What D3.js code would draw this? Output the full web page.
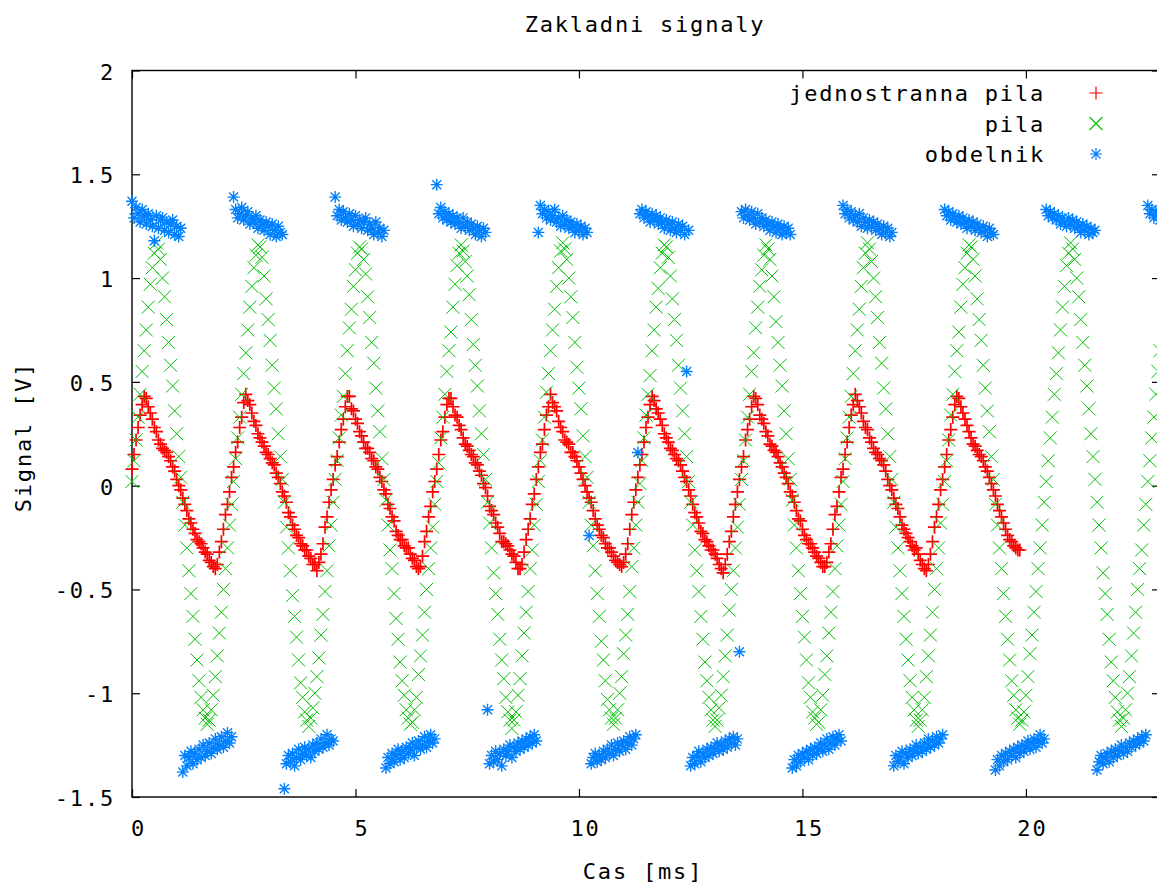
<!DOCTYPE html>
<html>
<head>
<meta charset="utf-8">
<script src="https://cdn.jsdelivr.net/npm/d3@7"></script>
<style>
  html, body { margin: 0; padding: 0; background: #fff; }
  svg { display: block; }
  text { font-family: "DejaVu Sans Mono", monospace; font-size: 22px; fill: #000; letter-spacing: 1.8px; }
</style>
</head>
<body>
<svg id="chart" width="1157" height="885"></svg>
<script>
// samples are 1/22 ms apart (22 kHz), first sample at t = 0
const sampleStep = 1 / 22;

const jednostrannaPila = [
  0.08,0.15,0.22,0.28,0.34,0.39,0.43,0.42,0.38,0.35,0.32,0.28,0.26,0.22,0.20,0.18,0.17,0.16,0.14,0.12,
  0.09,0.07,0.03,0.00,-0.02,-0.06,-0.09,-0.12,-0.16,-0.18,-0.21,-0.23,-0.26,-0.27,-0.28,-0.30,-0.32,-0.33,-0.36,-0.37,
  -0.39,-0.40,-0.38,-0.32,-0.27,-0.21,-0.14,-0.09,-0.03,0.04,
  0.09,0.16,0.21,0.28,0.33,0.40,0.44,0.41,0.39,0.35,0.31,0.29,0.25,0.23,0.21,0.19,0.16,0.15,0.13,0.11,
  0.10,0.06,0.04,0.01,-0.03,-0.05,-0.08,-0.13,-0.15,-0.19,-0.21,-0.24,-0.25,-0.28,-0.29,-0.31,-0.31,-0.34,-0.35,-0.38,
  -0.38,-0.41,-0.37,-0.33,-0.28,-0.20,-0.15,-0.08,-0.02,0.03,
  0.10,0.14,0.21,0.27,0.32,0.38,0.43,0.43,0.37,0.36,0.32,0.30,0.26,0.24,0.21,0.18,0.18,0.16,0.13,0.12,
  0.09,0.08,0.04,0.02,-0.02,-0.04,-0.09,-0.11,-0.15,-0.17,-0.22,-0.24,-0.26,-0.26,-0.29,-0.30,-0.30,-0.33,-0.35,-0.36,
  -0.39,-0.40,-0.39,-0.34,-0.27,-0.22,-0.15,-0.10,-0.03,0.02,
  0.08,0.15,0.22,0.26,0.33,0.39,0.42,0.42,0.38,0.34,0.33,0.29,0.27,0.23,0.20,0.19,0.17,0.15,0.14,0.11,
  0.10,0.07,0.05,0.01,-0.01,-0.05,-0.10,-0.12,-0.14,-0.18,-0.20,-0.23,-0.27,-0.27,-0.28,-0.29,-0.31,-0.33,-0.34,-0.37,
  -0.40,-0.40,-0.38,-0.32,-0.26,-0.21,-0.16,-0.09,-0.04,0.03,
  0.09,0.16,0.20,0.27,0.34,0.38,0.44,0.40,0.38,0.36,0.31,0.28,0.26,0.22,0.21,0.20,0.16,0.16,0.14,0.12,
  0.09,0.06,0.03,0.00,-0.03,-0.06,-0.08,-0.12,-0.16,-0.19,-0.21,-0.24,-0.25,-0.28,-0.30,-0.30,-0.32,-0.34,-0.36,-0.37,
  -0.38,-0.39,-0.37,-0.33,-0.28,-0.21,-0.14,-0.08,-0.02,0.04,
  0.10,0.15,0.21,0.28,0.33,0.39,0.43,0.41,0.37,0.35,0.32,0.29,0.25,0.23,0.21,0.18,0.17,0.15,0.13,0.12,
  0.10,0.07,0.04,0.02,-0.02,-0.05,-0.09,-0.13,-0.15,-0.18,-0.22,-0.23,-0.26,-0.27,-0.29,-0.31,-0.31,-0.33,-0.35,-0.38,
  -0.40,-0.42,-0.38,-0.33,-0.27,-0.22,-0.15,-0.09,-0.03,0.03,
  0.09,0.14,0.22,0.27,0.32,0.38,0.43,0.42,0.39,0.34,0.32,0.30,0.26,0.24,0.20,0.19,0.17,0.16,0.14,0.11,
  0.09,0.06,0.04,0.01,-0.03,-0.05,-0.08,-0.12,-0.16,-0.17,-0.21,-0.24,-0.26,-0.28,-0.28,-0.30,-0.32,-0.34,-0.35,-0.37,
  -0.39,-0.39,-0.37,-0.32,-0.28,-0.21,-0.14,-0.10,-0.03,0.04,
  0.08,0.15,0.21,0.28,0.34,0.39,0.44,0.41,0.38,0.35,0.31,0.28,0.27,0.23,0.21,0.18,0.16,0.15,0.13,0.12,
  0.10,0.07,0.03,0.00,-0.02,-0.06,-0.09,-0.11,-0.15,-0.19,-0.21,-0.23,-0.25,-0.27,-0.29,-0.31,-0.30,-0.33,-0.36,-0.38,
  -0.40,-0.41,-0.38,-0.33,-0.27,-0.20,-0.15,-0.09,-0.02,0.03,
  0.09,0.15,0.22,0.27,0.33,0.39,0.43,0.42,0.38,0.35,0.32,0.29,0.26,0.23,0.20,0.19,0.17,0.15,0.14,0.12,
  0.09,0.07,0.04,0.01,-0.02,-0.05,-0.09,-0.12,-0.15,-0.18,-0.21,-0.24,-0.26,-0.27,-0.29,-0.30,-0.31,-0.31
];

const pila = [
  0.02,0.12,0.22,0.33,0.44,0.55,0.65,0.75,0.86,0.97,1.05,1.12,1.17,1.14,1.09,1.00,0.91,0.80,0.69,0.58,
  0.48,0.36,0.25,0.14,0.04,-0.08,-0.19,-0.30,-0.41,-0.52,-0.63,-0.74,-0.84,-0.94,-1.02,-1.08,-1.12,-1.15,-1.13,-1.08,
  -1.01,-0.92,-0.82,-0.71,-0.61,-0.50,-0.40,-0.30,-0.19,-0.09,
  0.02,0.13,0.23,0.33,0.44,0.54,0.64,0.75,0.86,0.96,1.05,1.11,1.16,1.15,1.10,1.01,0.90,0.80,0.70,0.58,
  0.47,0.37,0.25,0.14,0.03,-0.08,-0.20,-0.30,-0.41,-0.53,-0.63,-0.73,-0.84,-0.95,-1.02,-1.09,-1.13,-1.16,-1.12,-1.07,
  -1.00,-0.92,-0.83,-0.72,-0.62,-0.51,-0.41,-0.29,-0.19,-0.08,
  0.03,0.12,0.23,0.34,0.43,0.54,0.65,0.76,0.85,0.96,1.04,1.12,1.15,1.14,1.09,1.02,0.91,0.81,0.69,0.59,
  0.47,0.36,0.26,0.13,0.03,-0.07,-0.19,-0.31,-0.40,-0.52,-0.64,-0.74,-0.85,-0.94,-1.01,-1.08,-1.12,-1.15,-1.14,-1.08,
  -1.02,-0.91,-0.82,-0.72,-0.61,-0.50,-0.40,-0.30,-0.20,-0.09,
  0.02,0.11,0.23,0.33,0.44,0.55,0.65,0.74,0.86,0.97,1.06,1.12,1.16,1.13,1.08,1.01,0.92,0.80,0.68,0.58,
  0.48,0.36,0.25,0.15,0.03,-0.08,-0.18,-0.30,-0.42,-0.52,-0.62,-0.74,-0.84,-0.93,-1.02,-1.09,-1.13,-1.17,-1.13,-1.09,
  -1.01,-0.93,-0.82,-0.71,-0.61,-0.51,-0.40,-0.31,-0.19,-0.09,
  0.02,0.12,0.22,0.33,0.45,0.54,0.65,0.75,0.85,0.96,1.05,1.13,1.17,1.14,1.09,1.00,0.91,0.81,0.69,0.57,
  0.47,0.37,0.24,0.14,0.04,-0.08,-0.19,-0.29,-0.41,-0.52,-0.63,-0.75,-0.84,-0.94,-1.03,-1.08,-1.12,-1.15,-1.12,-1.08,
  -1.00,-0.92,-0.81,-0.72,-0.62,-0.51,-0.39,-0.30,-0.19,-0.08,
  0.01,0.12,0.23,0.34,0.44,0.53,0.65,0.75,0.86,0.95,1.05,1.12,1.16,1.15,1.10,1.01,0.90,0.80,0.70,0.58,
  0.47,0.36,0.25,0.14,0.02,-0.08,-0.19,-0.31,-0.41,-0.51,-0.63,-0.74,-0.85,-0.94,-1.02,-1.08,-1.13,-1.16,-1.13,-1.07,
  -1.01,-0.92,-0.82,-0.72,-0.60,-0.50,-0.41,-0.30,-0.20,-0.09,
  0.03,0.12,0.22,0.33,0.44,0.55,0.64,0.76,0.86,0.96,1.04,1.11,1.16,1.14,1.09,1.01,0.91,0.79,0.69,0.58,
  0.48,0.36,0.25,0.13,0.03,-0.07,-0.19,-0.30,-0.41,-0.52,-0.63,-0.73,-0.84,-0.95,-1.02,-1.09,-1.12,-1.15,-1.14,-1.08,
  -1.01,-0.91,-0.82,-0.71,-0.61,-0.51,-0.40,-0.29,-0.19,-0.09,
  0.02,0.13,0.23,0.33,0.43,0.54,0.65,0.75,0.85,0.96,1.05,1.12,1.17,1.14,1.08,1.00,0.91,0.81,0.69,0.59,
  0.47,0.37,0.25,0.14,0.03,-0.08,-0.20,-0.30,-0.41,-0.52,-0.63,-0.74,-0.84,-0.94,-1.02,-1.08,-1.13,-1.16,-1.13,-1.08,
  -1.02,-0.92,-0.82,-0.72,-0.61,-0.50,-0.40,-0.30,-0.18,-0.09,
  0.02,0.12,0.22,0.34,0.44,0.55,0.65,0.74,0.86,0.97,1.05,1.12,1.16,1.15,1.09,1.01,0.90,0.80,0.70,0.58,
  0.47,0.36,0.26,0.14,0.03,-0.09,-0.19,-0.30,-0.40,-0.52,-0.63,-0.74,-0.84,-0.94,-1.01,-1.08,-1.12,-1.15,-1.13,-1.09,
  -1.01,-0.92,-0.81,-0.72,-0.61,-0.51,-0.40,-0.30,-0.19,-0.08,
  0.02,0.12,0.23,0.33,0.44,0.54,0.64,0.75,0.86,0.96,1.06,1.12,1.17,1.14,1.09,1.00,0.91,0.80,0.69,0.58,
  0.48,0.37,0.25,0.14,0.03,-0.08,-0.19,-0.30,-0.42,-0.52,-0.62,-0.74,-0.85,-0.94,-1.02,-1.09,-1.13,-1.16,-1.12,-1.08,
  -1.00,-0.92,-0.82,-0.71,-0.61,-0.50,-0.40,-0.31,-0.19,-0.09,
  0.02,0.12,0.23,0.33,0.44,0.55,0.65
];

const obdelnik = [
  1.37,1.29,1.34,1.31,1.27,1.33,1.30,1.26,1.31,1.28,1.25,1.18,1.30,1.24,1.28,1.29,1.23,1.27,1.22,1.26,1.28,1.21,1.25,1.20,1.24,
  -1.38,-1.30,-1.35,-1.31,-1.28,-1.34,-1.29,-1.32,-1.27,-1.31,-1.25,-1.30,-1.28,-1.24,-1.29,-1.26,-1.22,-1.27,-1.25,-1.21,-1.26,-1.23,-1.19,-1.24,-1.21,
  1.39,1.33,1.29,1.31,1.34,1.28,1.30,1.32,1.26,1.29,1.27,1.30,1.24,1.28,1.26,1.23,1.27,1.25,1.21,1.26,1.23,1.20,1.25,1.22,1.21,
  -1.46,-1.34,-1.30,-1.33,-1.29,-1.35,-1.31,-1.27,-1.32,-1.29,-1.26,-1.30,-1.27,-1.31,-1.25,-1.28,-1.24,-1.27,-1.22,-1.26,-1.24,-1.20,-1.25,-1.22,-1.23,
  1.39,1.30,1.33,1.28,1.32,1.29,1.27,1.31,1.28,1.25,1.30,1.26,1.28,1.24,1.27,1.29,1.23,1.26,1.24,1.21,1.27,1.22,1.24,1.20,1.23,
  -1.36,-1.31,-1.34,-1.29,-1.33,-1.30,-1.27,-1.32,-1.28,-1.31,-1.26,-1.29,-1.27,-1.24,-1.30,-1.26,-1.23,-1.27,-1.25,-1.21,-1.26,-1.23,-1.20,-1.24,-1.22,
  1.45,1.31,1.34,1.29,1.32,1.28,1.31,1.27,1.30,1.26,1.29,1.27,1.24,1.29,1.25,1.27,1.23,1.26,1.24,1.21,1.25,1.23,1.20,1.24,1.22,
  -1.08,-1.34,-1.30,-1.33,-1.28,-1.32,-1.29,-1.35,-1.27,-1.30,-1.28,-1.25,-1.31,-1.26,-1.28,-1.24,-1.27,-1.23,-1.26,-1.22,-1.25,-1.21,-1.24,-1.20,-1.23,
  1.22,1.35,1.31,1.33,1.29,1.32,1.28,1.30,1.33,1.27,1.29,1.25,1.30,1.26,1.28,1.24,1.27,1.25,1.22,1.26,1.23,1.25,1.21,1.24,1.22,
  -0.24,-1.34,-1.31,-1.29,-1.33,-1.30,-1.32,-1.28,-1.31,-1.27,-1.29,-1.25,-1.30,-1.27,-1.24,-1.28,-1.25,-1.23,-1.27,-1.24,-1.21,-1.25,-1.22,-1.20,0.16,
  1.31,1.33,1.29,1.32,1.30,1.27,1.31,1.28,1.30,1.26,1.29,1.27,1.24,1.28,1.26,1.23,1.27,1.24,1.22,1.26,1.23,1.25,1.21,0.55,1.23,
  -1.35,-1.31,-1.34,-1.30,-1.28,-1.33,-1.29,-1.31,-1.27,-1.30,-1.26,-1.29,-1.27,-1.24,-1.28,-1.25,-1.27,-1.23,-1.26,-1.22,-1.24,-1.21,-1.25,-1.22,-0.80,
  1.32,1.29,1.33,1.30,1.28,1.32,1.29,1.26,1.31,1.27,1.29,1.25,1.28,1.26,1.23,1.27,1.25,1.22,1.26,1.24,1.21,1.25,1.22,1.24,1.21,
  -1.36,-1.32,-1.35,-1.30,-1.33,-1.29,-1.31,-1.28,-1.32,-1.27,-1.30,-1.26,-1.29,-1.27,-1.24,-1.28,-1.25,-1.22,-1.27,-1.24,-1.21,-1.25,-1.22,-1.20,-1.23,
  1.35,1.31,1.33,1.29,1.32,1.28,1.30,1.27,1.31,1.25,1.29,1.27,1.24,1.28,1.25,1.27,1.23,1.26,1.24,1.21,1.25,1.22,1.24,1.20,1.22,
  -1.35,-1.30,-1.33,-1.31,-1.28,-1.34,-1.29,-1.31,-1.27,-1.30,-1.28,-1.25,-1.29,-1.26,-1.28,-1.24,-1.27,-1.22,-1.26,-1.23,-1.25,-1.21,-1.24,-1.22,-1.20,
  1.33,1.30,1.32,1.28,1.31,1.29,1.27,1.30,1.26,1.29,1.27,1.24,1.28,1.25,1.27,1.23,1.26,1.24,1.22,1.25,1.23,1.20,1.24,1.22,1.21,
  -1.37,-1.32,-1.35,-1.30,-1.33,-1.29,-1.32,-1.28,-1.30,-1.27,-1.31,-1.26,-1.29,-1.25,-1.28,-1.26,-1.23,-1.27,-1.24,-1.22,-1.26,-1.23,-1.20,-1.24,-1.22,
  1.33,1.30,1.32,1.29,1.31,1.28,1.30,1.26,1.29,1.27,1.25,1.29,1.26,1.28,1.24,1.27,1.25,1.22,1.26,1.23,1.25,1.21,1.24,1.22,1.23,
  -1.37,-1.33,-1.30,-1.34,-1.31,-1.29,-1.33,-1.28,-1.31,-1.27,-1.30,-1.28,-1.25,-1.29,-1.26,-1.28,-1.24,-1.26,-1.23,-1.25,-1.22,-1.24,-1.21,-1.23,-1.20,
  1.35,1.31,1.33,1.29,1.32,1.30,1.28
];

const xTicks = [0, 5, 10, 15, 20];
const yTicks = [-1.5, -1, -0.5, 0, 0.5, 1, 1.5, 2];
const seriesNames = ["jednostranna pila", "pila", "obdelnik"];

const colors = ["#ff0000", "#00c000", "#0080ff"];
const strokeWidths = [1.7, 1, 1.4];
// gnuplot point types 1, 2, 3
const shapes = [
  "M-6.5,0H6.5M0,-6.5V6.5",
  "M-6.5,-6.5L6.5,6.5M-6.5,6.5L6.5,-6.5",
  "M-6,0H6M0,-6V6M-4.5,-4.5L4.5,4.5M-4.5,4.5L4.5,-4.5"
];

const svg = d3.select("#chart");
const plotLeft = 132, plotRight = 1160, plotTop = 70.5, plotBottom = 797;

const x = d3.scaleLinear().domain([0, 23]).range([plotLeft, plotRight]);
const y = d3.scaleLinear().domain([-1.5, 2]).range([plotBottom, plotTop]);

function styleAxis(g) {
  g.select(".domain").remove();
  g.selectAll(".tick line").attr("stroke", "#000").attr("stroke-width", 1.2);
}

// bottom + top
svg.append("g")
    .attr("transform", `translate(0,${plotBottom})`)
    .call(d3.axisBottom(x).tickValues(xTicks).tickSize(-8).tickFormat(d => String(d)))
    .call(styleAxis)
    .call(g => g.selectAll(".tick text").attr("dy", null).attr("y", 39).attr("x", 6));
svg.append("g")
    .attr("transform", `translate(0,${plotTop})`)
    .call(d3.axisTop(x).tickValues(xTicks).tickSize(-8).tickFormat(""))
    .call(styleAxis);

// left + right
svg.append("g")
    .attr("transform", `translate(${plotLeft},0)`)
    .call(d3.axisLeft(y).tickValues(yTicks).tickSize(-8).tickFormat(d => String(d)))
    .call(styleAxis)
    .call(g => g.selectAll(".tick text").attr("dy", null).attr("y", 8.5).attr("x", -17));
svg.append("g")
    .attr("transform", `translate(${plotRight},0)`)
    .call(d3.axisRight(y).tickValues(yTicks).tickSize(-8).tickFormat(""))
    .call(styleAxis);

svg.append("rect")
    .attr("x", plotLeft).attr("y", plotTop)
    .attr("width", plotRight - plotLeft).attr("height", plotBottom - plotTop)
    .attr("fill", "none").attr("stroke", "#000").attr("stroke-width", 1.4);

// points
[jednostrannaPila, pila, obdelnik].forEach((values, k) => {
  svg.append("g")
      .attr("fill", "none")
      .attr("stroke", colors[k])
      .attr("stroke-width", strokeWidths[k])
    .selectAll("path")
    .data(values)
    .join("path")
      .attr("transform", (d, i) => `translate(${x(i * sampleStep)},${y(d)})`)
      .attr("d", shapes[k]);
});

// legend
const legend = svg.append("g");
seriesNames.forEach((name, k) => {
  const base = 101 + k * 30.5;
  legend.append("text")
      .attr("x", 1045).attr("y", base)
      .attr("text-anchor", "end")
      .text(name);
  legend.append("path")
      .attr("transform", `translate(1096,${base - 8})`)
      .attr("d", shapes[k])
      .attr("fill", "none")
      .attr("stroke", colors[k])
      .attr("stroke-width", 1.2);
});

// titles
svg.append("text")
    .attr("x", 645).attr("y", 32)
    .attr("text-anchor", "middle")
    .text("Zakladni signaly");
svg.append("text")
    .attr("x", 643).attr("y", 879)
    .attr("text-anchor", "middle")
    .text("Cas [ms]");
svg.append("text")
    .attr("transform", "translate(31,437) rotate(-90)")
    .attr("text-anchor", "middle")
    .text("Signal [V]");
</script>
</body>
</html>
